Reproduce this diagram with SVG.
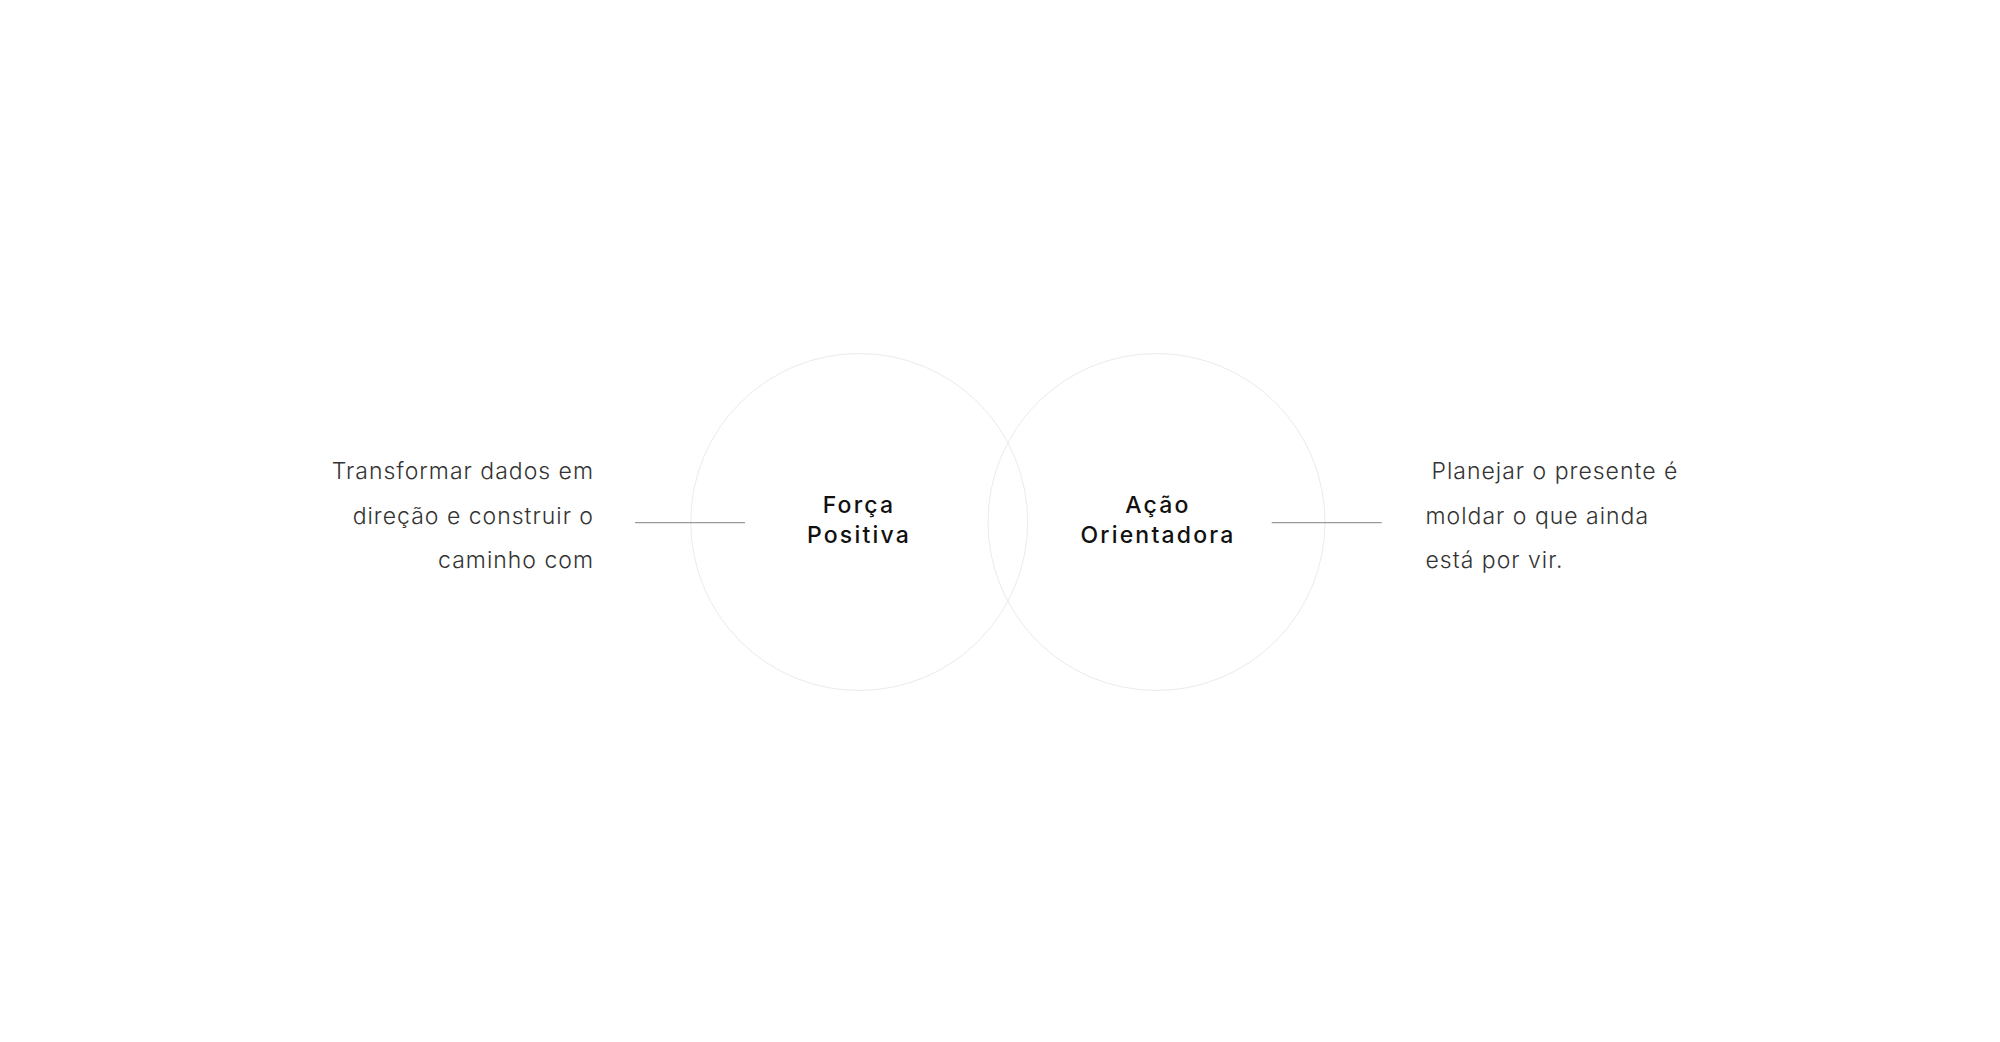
<svg xmlns="http://www.w3.org/2000/svg" width="2000" height="1042" viewBox="0 0 2000 1042">
  <style>
    .circle { fill: none; stroke: #ebebeb; stroke-width: 1; }
    .conn { stroke: #9a9a9a; stroke-width: 1.3; fill: none; }
    .label { font-family: Inter, "Liberation Sans", sans-serif; font-size: 23px; font-weight: 500; fill: #111111; text-anchor: middle; letter-spacing: 2.2px; }
    .desc { font-family: Inter, "Liberation Sans", sans-serif; font-size: 23px; font-weight: 300; fill: #333333; letter-spacing: 1px; }
  </style>
  <rect x="0" y="0" width="2000" height="1042" fill="#ffffff"/>
  <g id="node-forca">
    <circle class="circle" cx="859.2" cy="522" r="168.5"/>
    <text class="label" x="859" y="513">Força</text>
    <text class="label" x="859" y="542.5">Positiva</text>
  </g>
  <g id="node-acao">
    <circle class="circle" cx="1156.5" cy="522" r="168.5"/>
    <text class="label" x="1158" y="513">Ação</text>
    <text class="label" x="1158" y="542.5">Orientadora</text>
  </g>
  <g id="text-left">
    <text class="desc" text-anchor="end" x="594" y="479">Transformar dados em</text>
    <text class="desc" text-anchor="end" x="594" y="523.5">direção e construir o</text>
    <text class="desc" text-anchor="end" x="594" y="568">caminho com</text>
  </g>
  <g id="text-right">
    <text class="desc" x="1431.5" y="479">Planejar o presente é</text>
    <text class="desc" x="1425.5" y="523.5">moldar o que ainda</text>
    <text class="desc" x="1425.5" y="568">está por vir.</text>
  </g>
  <g id="connectors">
    <line class="conn" x1="635" y1="522.7" x2="745" y2="522.7"/>
    <line class="conn" x1="1271.7" y1="522.7" x2="1381.7" y2="522.7"/>
  </g>
</svg>
